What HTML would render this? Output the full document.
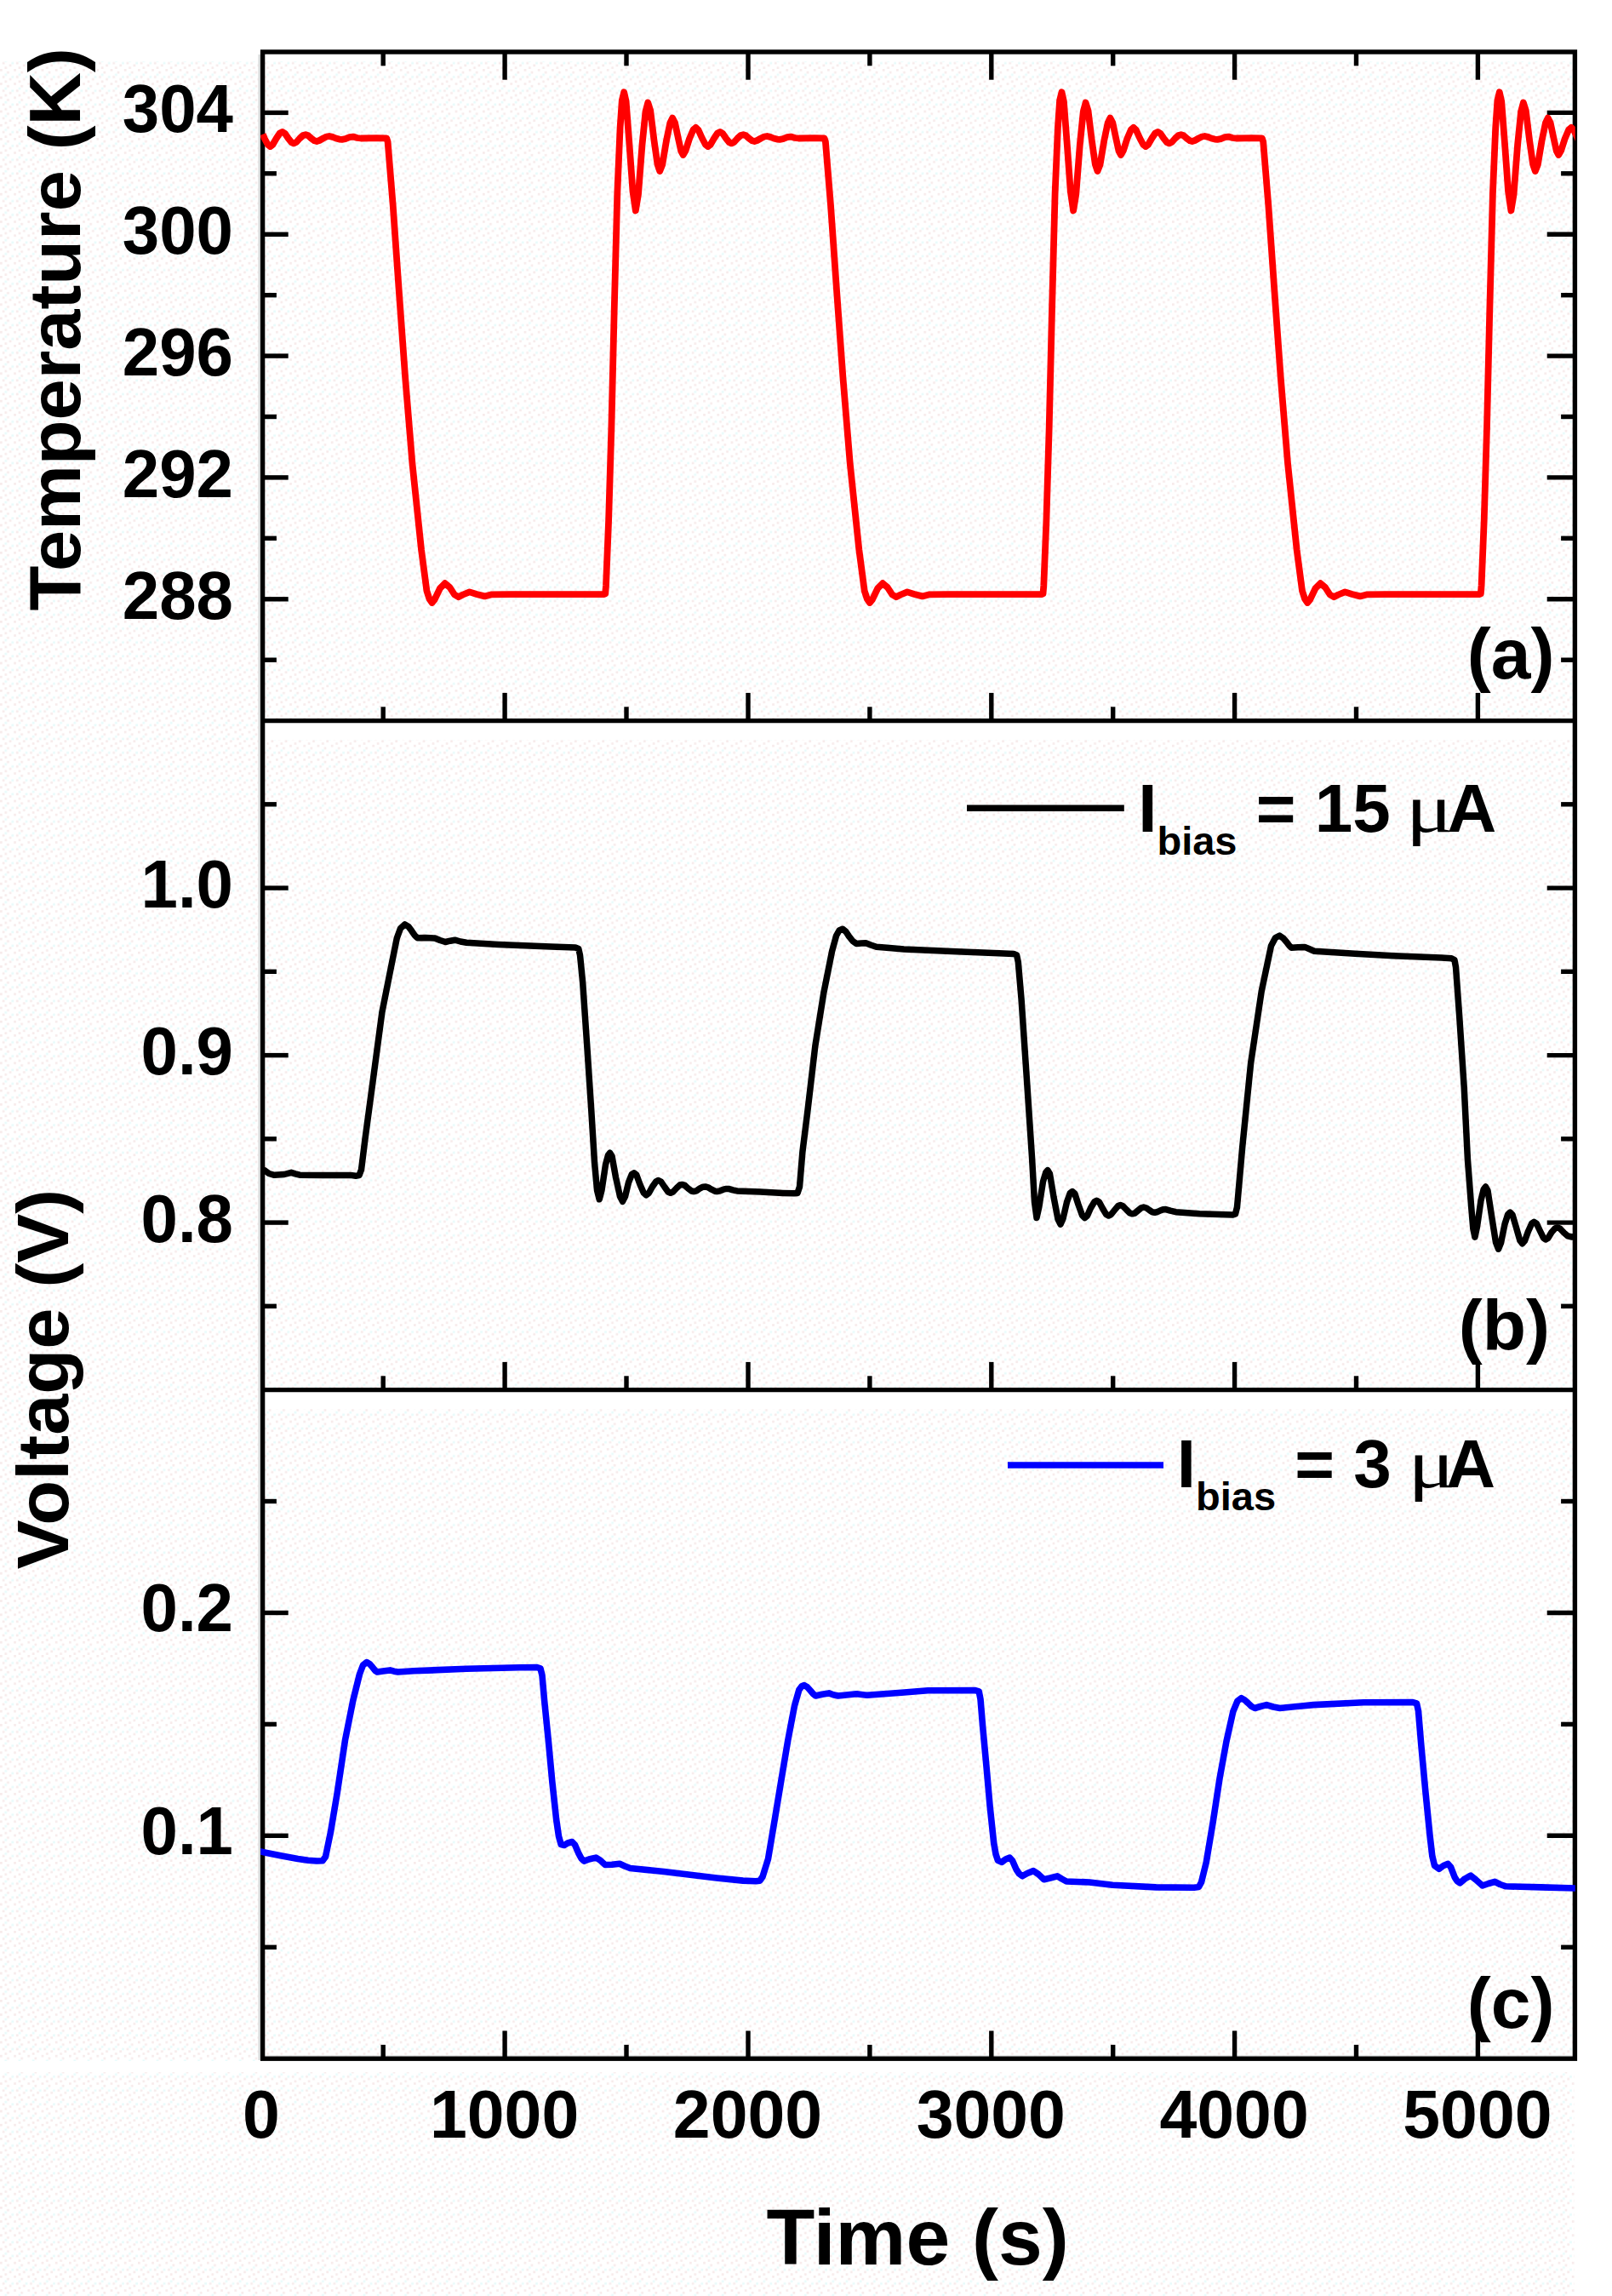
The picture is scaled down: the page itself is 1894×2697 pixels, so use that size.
<!DOCTYPE html>
<html lang="en"><head><meta charset="utf-8"><title>Temperature and voltage versus time</title>
<style>
html,body{margin:0;padding:0;background:#fff;}
body{width:1894px;height:2697px;overflow:hidden;}
svg{display:block;}
text{font-family:"Liberation Sans",sans-serif;font-weight:bold;fill:#000;}
.tk{font-size:80px;}
.ttl{font-size:85px;}
.xt{font-size:92px;}
.pl{font-size:84px;}
.lg{font-size:80px;}
.sub{font-size:47px;}
.mu{font-family:"Liberation Serif",serif;font-weight:normal;font-size:80px;}
</style></head><body>
<svg width="1894" height="2697" viewBox="0 0 1894 2697">
<rect x="0" y="0" width="1894" height="2697" fill="#ffffff"/>
<defs><pattern id="dz" width="16.2" height="16.2" patternUnits="userSpaceOnUse"><g fill="#f7ebeb"><rect x="0" y="0" width="2.7" height="2.7"/><rect x="8.1" y="2.7" width="2.7" height="2.7"/><rect x="2.7" y="8.1" width="2.7" height="2.7"/><rect x="10.8" y="10.8" width="2.7" height="2.7"/><rect x="5.4" y="13.5" width="2.7" height="2.7"/></g><g fill="#e8fbfb"><rect x="5.4" y="5.4" width="2.7" height="2.7"/><rect x="13.5" y="8.1" width="2.7" height="2.7"/></g></pattern></defs>
<rect x="0" y="72" width="1850" height="2625" fill="url(#dz)"/>
<g fill="#fff"><rect x="311" y="849" width="1538" height="20"/><rect x="311" y="1635" width="1538" height="20"/><rect x="0" y="2421" width="1850" height="13"/></g>
<defs><clipPath id="cp"><rect x="306.2" y="61.0" width="1544.6" height="2357.2"/></clipPath></defs>
<line x1="304.6" y1="64" x2="304.6" y2="2420" stroke="#d9dcdc" stroke-width="2.4"/>
<line x1="311.5" y1="2414.9" x2="1847.5" y2="2414.9" stroke="#dfe2e2" stroke-width="1.2"/>
<g stroke="#000" stroke-width="5.4" fill="none" stroke-linecap="butt">
<rect x="308.6" y="61.0" width="1541.8" height="2357.2"/>
<line x1="308.6" y1="846.6" x2="1850.4" y2="846.6"/>
<line x1="308.6" y1="1632.6" x2="1850.4" y2="1632.6"/>
</g>
<g stroke="#000" stroke-width="5.4" stroke-linecap="butt">
<line x1="450.2" y1="61.0" x2="450.2" y2="77.3"/>
<line x1="450.2" y1="846.6" x2="450.2" y2="830.3"/>
<line x1="450.2" y1="1632.6" x2="450.2" y2="1616.3"/>
<line x1="450.2" y1="2418.2" x2="450.2" y2="2401.9"/>
<line x1="593.1" y1="61.0" x2="593.1" y2="93.7"/>
<line x1="593.1" y1="846.6" x2="593.1" y2="813.9"/>
<line x1="593.1" y1="1632.6" x2="593.1" y2="1599.9"/>
<line x1="593.1" y1="2418.2" x2="593.1" y2="2385.5"/>
<line x1="736.0" y1="61.0" x2="736.0" y2="77.3"/>
<line x1="736.0" y1="846.6" x2="736.0" y2="830.3"/>
<line x1="736.0" y1="1632.6" x2="736.0" y2="1616.3"/>
<line x1="736.0" y1="2418.2" x2="736.0" y2="2401.9"/>
<line x1="879.0" y1="61.0" x2="879.0" y2="93.7"/>
<line x1="879.0" y1="846.6" x2="879.0" y2="813.9"/>
<line x1="879.0" y1="1632.6" x2="879.0" y2="1599.9"/>
<line x1="879.0" y1="2418.2" x2="879.0" y2="2385.5"/>
<line x1="1021.9" y1="61.0" x2="1021.9" y2="77.3"/>
<line x1="1021.9" y1="846.6" x2="1021.9" y2="830.3"/>
<line x1="1021.9" y1="1632.6" x2="1021.9" y2="1616.3"/>
<line x1="1021.9" y1="2418.2" x2="1021.9" y2="2401.9"/>
<line x1="1164.8" y1="61.0" x2="1164.8" y2="93.7"/>
<line x1="1164.8" y1="846.6" x2="1164.8" y2="813.9"/>
<line x1="1164.8" y1="1632.6" x2="1164.8" y2="1599.9"/>
<line x1="1164.8" y1="2418.2" x2="1164.8" y2="2385.5"/>
<line x1="1307.7" y1="61.0" x2="1307.7" y2="77.3"/>
<line x1="1307.7" y1="846.6" x2="1307.7" y2="830.3"/>
<line x1="1307.7" y1="1632.6" x2="1307.7" y2="1616.3"/>
<line x1="1307.7" y1="2418.2" x2="1307.7" y2="2401.9"/>
<line x1="1450.6" y1="61.0" x2="1450.6" y2="93.7"/>
<line x1="1450.6" y1="846.6" x2="1450.6" y2="813.9"/>
<line x1="1450.6" y1="1632.6" x2="1450.6" y2="1599.9"/>
<line x1="1450.6" y1="2418.2" x2="1450.6" y2="2385.5"/>
<line x1="1593.5" y1="61.0" x2="1593.5" y2="77.3"/>
<line x1="1593.5" y1="846.6" x2="1593.5" y2="830.3"/>
<line x1="1593.5" y1="1632.6" x2="1593.5" y2="1616.3"/>
<line x1="1593.5" y1="2418.2" x2="1593.5" y2="2401.9"/>
<line x1="1736.4" y1="61.0" x2="1736.4" y2="93.7"/>
<line x1="1736.4" y1="846.6" x2="1736.4" y2="813.9"/>
<line x1="1736.4" y1="1632.6" x2="1736.4" y2="1599.9"/>
<line x1="1736.4" y1="2418.2" x2="1736.4" y2="2385.5"/>
<line x1="308.6" y1="703.8" x2="338.7" y2="703.8"/>
<line x1="1850.4" y1="703.8" x2="1817.7" y2="703.8"/>
<line x1="308.6" y1="560.9" x2="338.7" y2="560.9"/>
<line x1="1850.4" y1="560.9" x2="1817.7" y2="560.9"/>
<line x1="308.6" y1="418.1" x2="338.7" y2="418.1"/>
<line x1="1850.4" y1="418.1" x2="1817.7" y2="418.1"/>
<line x1="308.6" y1="275.3" x2="338.7" y2="275.3"/>
<line x1="1850.4" y1="275.3" x2="1817.7" y2="275.3"/>
<line x1="308.6" y1="132.4" x2="338.7" y2="132.4"/>
<line x1="1850.4" y1="132.4" x2="1817.7" y2="132.4"/>
<line x1="308.6" y1="775.2" x2="324.9" y2="775.2"/>
<line x1="1850.4" y1="775.2" x2="1834.1" y2="775.2"/>
<line x1="308.6" y1="632.3" x2="324.9" y2="632.3"/>
<line x1="1850.4" y1="632.3" x2="1834.1" y2="632.3"/>
<line x1="308.6" y1="489.5" x2="324.9" y2="489.5"/>
<line x1="1850.4" y1="489.5" x2="1834.1" y2="489.5"/>
<line x1="308.6" y1="346.7" x2="324.9" y2="346.7"/>
<line x1="1850.4" y1="346.7" x2="1834.1" y2="346.7"/>
<line x1="308.6" y1="203.8" x2="324.9" y2="203.8"/>
<line x1="1850.4" y1="203.8" x2="1834.1" y2="203.8"/>
<line x1="308.6" y1="1436.1" x2="338.7" y2="1436.1"/>
<line x1="1850.4" y1="1436.1" x2="1817.7" y2="1436.1"/>
<line x1="308.6" y1="1239.6" x2="338.7" y2="1239.6"/>
<line x1="1850.4" y1="1239.6" x2="1817.7" y2="1239.6"/>
<line x1="308.6" y1="1043.1" x2="338.7" y2="1043.1"/>
<line x1="1850.4" y1="1043.1" x2="1817.7" y2="1043.1"/>
<line x1="308.6" y1="1534.3" x2="324.9" y2="1534.3"/>
<line x1="1850.4" y1="1534.3" x2="1834.1" y2="1534.3"/>
<line x1="308.6" y1="1337.8" x2="324.9" y2="1337.8"/>
<line x1="1850.4" y1="1337.8" x2="1834.1" y2="1337.8"/>
<line x1="308.6" y1="1141.3" x2="324.9" y2="1141.3"/>
<line x1="1850.4" y1="1141.3" x2="1834.1" y2="1141.3"/>
<line x1="308.6" y1="944.8" x2="324.9" y2="944.8"/>
<line x1="1850.4" y1="944.8" x2="1834.1" y2="944.8"/>
<line x1="308.6" y1="2156.3" x2="338.7" y2="2156.3"/>
<line x1="1850.4" y1="2156.3" x2="1817.7" y2="2156.3"/>
<line x1="308.6" y1="1894.5" x2="338.7" y2="1894.5"/>
<line x1="1850.4" y1="1894.5" x2="1817.7" y2="1894.5"/>
<line x1="308.6" y1="2287.3" x2="324.9" y2="2287.3"/>
<line x1="1850.4" y1="2287.3" x2="1834.1" y2="2287.3"/>
<line x1="308.6" y1="2025.4" x2="324.9" y2="2025.4"/>
<line x1="1850.4" y1="2025.4" x2="1834.1" y2="2025.4"/>
<line x1="308.6" y1="1763.5" x2="324.9" y2="1763.5"/>
<line x1="1850.4" y1="1763.5" x2="1834.1" y2="1763.5"/>
</g>
<g clip-path="url(#cp)">
<polyline points="308.8,157.6 310.7,162.5 314.7,170.0 317.5,172.1 320.5,169.8 324.7,162.5 328.7,156.5 331.7,155.0 334.9,156.8 338.7,162.5 342.5,167.2 345.1,168.4 348.2,167.0 352.2,162.5 356.1,159.0 359.0,158.2 362.2,159.3 365.7,162.5 369.5,165.3 372.1,166.0 375.3,165.0 379.7,162.5 383.7,160.5 386.9,160.0 390.7,160.9 394.7,162.5 398.7,163.6 401.8,163.8 405.7,163.2 410.7,161.2 414.9,160.6 419.7,162.0 424.0,162.5 424.0,162.5 442.7,162.2 454.2,162.3 455.6,166.5 461.7,241.0 468.8,342.0 476.1,443.0 484.4,544.0 495.0,645.5 501.4,694.0 504.5,703.5 507.6,708.0 510.5,704.5 517.0,691.0 522.8,685.2 528.5,690.0 534.0,698.5 538.6,701.2 544.0,698.5 551.7,695.4 560.0,698.0 569.4,700.4 577.0,698.4 600.0,698.2 709.0,698.2 711.2,697.6 712.0,688.0 715.1,611.6 718.4,501.8 721.7,364.5 725.3,227.3 728.6,150.0 730.8,118.0 733.2,108.3 735.6,119.0 739.5,170.0 743.5,225.0 746.8,247.5 750.0,228.0 754.5,170.0 758.5,131.0 761.3,120.6 764.2,130.0 768.5,165.0 772.5,193.0 775.2,201.0 778.2,193.5 783.0,165.0 787.3,144.5 790.1,138.6 793.0,144.0 797.0,163.0 800.2,177.5 802.6,182.0 805.5,177.0 810.0,163.0 814.5,152.5 817.5,149.8 820.6,152.8 825.0,162.5 829.0,170.0 831.8,172.1 834.8,169.8 839.0,162.5 843.0,156.5 846.0,155.0 849.2,156.8 853.0,162.5 856.8,167.2 859.4,168.4 862.5,167.0 866.5,162.5 870.4,159.0 873.3,158.2 876.5,159.3 880.0,162.5 883.8,165.3 886.4,166.0 889.6,165.0 894.0,162.5 898.0,160.5 901.2,160.0 905.0,160.9 909.0,162.5 913.0,163.6 916.1,163.8 920.0,163.2 925.0,161.2 929.2,160.6 934.0,162.0 938.3,162.5 938.3,162.5 957.0,162.2 968.5,162.3 969.9,166.5 976.0,241.0 983.1,342.0 990.4,443.0 998.7,544.0 1009.3,645.5 1015.7,694.0 1018.8,703.5 1021.9,708.0 1024.8,704.5 1031.3,691.0 1037.1,685.2 1042.8,690.0 1048.3,698.5 1052.9,701.2 1058.3,698.5 1066.0,695.4 1074.3,698.0 1083.7,700.4 1091.3,698.4 1114.3,698.2 1223.3,698.2 1225.5,697.6 1226.3,688.0 1229.4,611.6 1232.7,501.8 1236.0,364.5 1239.6,227.3 1242.9,150.0 1245.1,118.0 1247.5,108.3 1249.9,119.0 1253.8,170.0 1257.8,225.0 1261.1,247.5 1264.3,228.0 1268.8,170.0 1272.8,131.0 1275.6,120.6 1278.5,130.0 1282.8,165.0 1286.8,193.0 1289.5,201.0 1292.5,193.5 1297.3,165.0 1301.6,144.5 1304.4,138.6 1307.3,144.0 1311.3,163.0 1314.5,177.5 1316.9,182.0 1319.8,177.0 1324.3,163.0 1328.8,152.5 1331.8,149.8 1334.9,152.8 1339.3,162.5 1343.3,170.0 1346.1,172.1 1349.1,169.8 1353.3,162.5 1357.3,156.5 1360.3,155.0 1363.5,156.8 1367.3,162.5 1371.1,167.2 1373.7,168.4 1376.8,167.0 1380.8,162.5 1384.7,159.0 1387.6,158.2 1390.8,159.3 1394.3,162.5 1398.1,165.3 1400.7,166.0 1403.9,165.0 1408.3,162.5 1412.3,160.5 1415.5,160.0 1419.3,160.9 1423.3,162.5 1427.3,163.6 1430.4,163.8 1434.3,163.2 1439.3,161.2 1443.5,160.6 1448.3,162.0 1452.6,162.5 1452.6,162.5 1471.3,162.2 1482.8,162.3 1484.2,166.5 1490.3,241.0 1497.4,342.0 1504.7,443.0 1513.0,544.0 1523.6,645.5 1530.0,694.0 1533.1,703.5 1536.2,708.0 1539.1,704.5 1545.6,691.0 1551.4,685.2 1557.1,690.0 1562.6,698.5 1567.2,701.2 1572.6,698.5 1580.3,695.4 1588.6,698.0 1598.0,700.4 1605.6,698.4 1628.6,698.2 1737.6,698.2 1739.8,697.6 1740.6,688.0 1743.7,611.6 1747.0,501.8 1750.3,364.5 1753.9,227.3 1757.2,150.0 1759.4,118.0 1761.8,108.3 1764.2,119.0 1768.1,170.0 1772.1,225.0 1775.4,247.5 1778.6,228.0 1783.1,170.0 1787.1,131.0 1789.9,120.6 1792.8,130.0 1797.1,165.0 1801.1,193.0 1803.8,201.0 1806.8,193.5 1811.6,165.0 1815.9,144.5 1818.7,138.6 1821.6,144.0 1825.6,163.0 1828.8,177.5 1831.2,182.0 1834.1,177.0 1838.6,163.0 1843.1,152.5 1846.1,149.8 1849.2,152.8 1853.6,162.5 1857.6,170.0 1860.4,172.1 1863.4,169.8 1867.6,162.5 1871.6,156.5 1874.6,155.0 1877.8,156.8 1881.6,162.5 1885.4,167.2 1888.0,168.4 1891.1,167.0 1895.1,162.5 1899.0,159.0 1901.9,158.2 1905.1,159.3 1908.6,162.5 1912.4,165.3 1915.0,166.0 1918.2,165.0 1922.6,162.5 1926.6,160.5 1929.8,160.0 1933.6,160.9 1937.6,162.5 1941.6,163.6 1944.7,163.8 1948.6,163.2 1953.6,161.2 1957.8,160.6 1962.6,162.0 1966.9,162.5 1966.9,162.5 1985.6,162.2 1997.1,162.3 1998.5,166.5 2004.6,241.0 2011.7,342.0 2019.0,443.0 2027.3,544.0 2037.9,645.5 2044.3,694.0 2047.4,703.5 2050.5,708.0 2053.4,704.5 2059.9,691.0 2065.7,685.2 2071.4,690.0 2076.9,698.5 2081.5,701.2 2086.9,698.5 2094.6,695.4 2102.9,698.0 2112.3,700.4 2119.9,698.4 2142.9,698.2 2251.9,698.2 2254.1,697.6 2254.9,688.0 2258.0,611.6 2261.3,501.8 2264.6,364.5 2268.2,227.3 2271.5,150.0 2273.7,118.0 2276.1,108.3 2278.5,119.0 2282.4,170.0 2286.4,225.0 2289.7,247.5 2292.9,228.0 2297.4,170.0 2301.4,131.0 2304.2,120.6 2307.1,130.0 2311.4,165.0 2315.4,193.0 2318.1,201.0 2321.1,193.5 2325.9,165.0 2330.2,144.5 2333.0,138.6 2335.9,144.0 2339.9,163.0 2343.1,177.5 2345.5,182.0 2348.4,177.0 2352.9,163.0 2357.4,152.5 2360.4,149.8 2363.5,152.8 2367.9,162.5 2371.9,170.0 2374.7,172.1 2377.7,169.8 2381.9,162.5 2385.9,156.5 2388.9,155.0 2392.1,156.8 2395.9,162.5 2399.7,167.2 2402.3,168.4 2405.4,167.0 2409.4,162.5 2413.3,159.0 2416.2,158.2 2419.4,159.3 2422.9,162.5 2426.7,165.3 2429.3,166.0 2432.5,165.0 2436.9,162.5 2440.9,160.5 2444.1,160.0 2447.9,160.9 2451.9,162.5 2455.9,163.6 2459.0,163.8 2462.9,163.2 2467.9,161.2 2472.1,160.6 2476.9,162.0 2481.2,162.5" fill="none" stroke="#ff0000" stroke-width="7.8" stroke-linejoin="round" stroke-linecap="butt"/>
<polyline points="305.0,1373.5 311.2,1375.0 316.0,1378.5 322.3,1380.3 334.0,1379.5 342.2,1377.3 347.0,1378.8 352.1,1380.2 380.0,1380.4 411.7,1380.4 418.0,1381.2 422.0,1380.6 424.5,1374.0 429.0,1337.8 439.0,1263.3 448.9,1188.9 458.8,1139.3 466.3,1102.0 470.5,1090.5 475.7,1085.9 480.0,1088.5 483.6,1093.3 487.5,1099.0 490.6,1101.8 500.0,1101.6 510.9,1102.0 517.0,1104.5 523.3,1106.5 529.0,1105.2 534.5,1104.2 541.0,1106.0 548.1,1107.2 585.4,1109.5 647.4,1112.0 676.0,1113.0 679.8,1114.5 681.5,1122.0 684.7,1154.4 689.8,1228.9 694.7,1303.3 698.5,1365.4 701.5,1398.0 704.2,1408.8 707.0,1398.0 711.5,1368.0 714.5,1357.0 716.6,1354.2 719.0,1358.0 723.5,1383.0 728.5,1405.5 731.5,1411.3 734.5,1405.5 738.5,1389.0 742.3,1379.5 744.9,1377.8 747.8,1380.0 752.0,1391.5 756.3,1401.2 759.3,1403.8 762.3,1401.5 766.5,1394.0 770.8,1387.8 773.6,1386.5 776.6,1388.0 781.0,1394.5 785.0,1400.0 787.8,1401.3 790.8,1400.0 795.0,1395.5 798.8,1392.0 801.4,1391.4 804.5,1392.4 808.5,1396.0 812.5,1399.0 815.1,1399.6 818.2,1398.8 822.0,1396.2 826.0,1394.2 828.7,1393.9 832.0,1394.8 836.0,1397.2 840.0,1399.2 842.4,1399.6 846.0,1398.8 850.0,1397.2 853.5,1396.4 856.0,1396.4 861.0,1397.8 866.0,1398.9 893.3,1400.1 920.0,1401.4 933.0,1401.8 937.0,1401.5 939.5,1394.0 942.9,1353.0 949.1,1303.3 957.8,1228.9 967.7,1166.8 977.6,1117.2 982.6,1099.0 986.0,1093.0 990.0,1091.2 994.0,1094.5 997.5,1099.9 1002.0,1105.5 1006.2,1108.5 1012.0,1108.0 1017.3,1107.8 1023.0,1110.0 1029.7,1112.3 1045.0,1113.5 1062.0,1115.0 1124.0,1117.8 1173.7,1119.7 1191.0,1120.4 1194.6,1122.0 1196.3,1130.0 1200.0,1173.0 1206.3,1266.0 1212.5,1359.2 1215.5,1412.0 1218.0,1430.5 1220.8,1418.0 1225.5,1388.0 1228.8,1377.0 1231.0,1374.7 1233.5,1379.0 1238.0,1406.0 1243.0,1432.0 1246.0,1438.2 1249.0,1431.5 1253.5,1412.0 1257.3,1401.5 1260.0,1399.5 1262.8,1402.0 1267.0,1415.0 1271.5,1427.5 1274.5,1430.5 1277.5,1428.0 1281.5,1419.0 1285.8,1411.8 1288.5,1410.3 1291.5,1412.0 1295.5,1419.5 1299.6,1426.4 1302.4,1428.0 1305.5,1426.5 1309.5,1421.5 1313.6,1416.6 1316.4,1415.6 1319.5,1416.8 1323.5,1421.0 1327.6,1425.0 1330.3,1425.8 1333.4,1425.0 1337.0,1422.0 1341.0,1418.8 1343.7,1418.0 1347.0,1419.0 1350.5,1421.5 1354.0,1423.8 1356.7,1424.3 1360.0,1423.5 1363.5,1421.8 1367.0,1420.7 1369.7,1420.6 1375.0,1422.2 1381.5,1423.7 1409.4,1425.8 1440.0,1426.8 1448.5,1427.0 1451.5,1426.0 1453.5,1418.0 1459.7,1347.5 1469.6,1249.0 1482.2,1164.5 1493.5,1111.0 1498.5,1101.5 1503.4,1099.1 1507.5,1101.8 1511.8,1106.8 1515.0,1111.0 1517.4,1113.2 1525.0,1112.8 1532.9,1112.4 1538.5,1114.8 1544.2,1117.2 1592.1,1120.3 1637.1,1122.8 1693.5,1125.0 1705.5,1125.8 1708.9,1127.5 1710.5,1136.0 1714.6,1192.6 1720.2,1277.1 1724.4,1361.6 1728.7,1418.0 1730.8,1443.0 1732.9,1453.1 1735.5,1441.0 1740.0,1410.0 1743.2,1397.0 1745.5,1394.0 1748.0,1398.5 1752.5,1428.0 1757.5,1459.5 1760.5,1467.2 1763.5,1460.0 1768.0,1438.0 1771.7,1426.5 1774.3,1424.1 1777.0,1426.8 1781.5,1442.0 1785.8,1457.0 1788.6,1460.7 1791.5,1457.5 1795.5,1446.5 1799.7,1437.2 1802.4,1435.4 1805.3,1437.2 1809.5,1446.0 1813.5,1454.2 1816.0,1456.0 1819.0,1454.2 1823.0,1447.5 1827.2,1442.8 1830.0,1441.9 1833.0,1443.2 1837.5,1448.0 1842.0,1451.8 1847.0,1453.0 1852.0,1452.0" fill="none" stroke="#000000" stroke-width="7.5" stroke-linejoin="round" stroke-linecap="butt"/>
<polyline points="305.0,2174.8 310.9,2175.9 331.0,2179.9 350.0,2183.5 362.0,2185.2 372.0,2186.0 379.0,2185.8 382.5,2181.0 388.4,2152.6 396.2,2106.1 405.5,2044.1 414.8,1997.5 422.5,1966.5 426.5,1956.0 430.9,1952.6 434.5,1954.8 438.0,1958.8 441.0,1962.5 443.3,1964.0 450.0,1963.0 458.2,1961.9 463.0,1963.2 467.5,1964.0 486.1,1962.8 548.1,1960.3 610.2,1958.8 631.0,1958.6 635.0,1959.8 637.0,1968.0 639.6,1997.5 644.3,2044.1 648.9,2093.7 653.6,2137.1 656.5,2157.0 659.2,2166.6 662.9,2167.5 667.0,2165.0 672.2,2163.5 675.5,2167.0 680.0,2177.4 683.0,2183.0 686.2,2186.1 692.0,2184.0 700.1,2182.1 705.0,2185.0 711.0,2190.5 719.0,2190.2 728.0,2189.2 734.0,2192.0 740.4,2194.5 765.3,2197.0 780.0,2198.5 811.0,2202.3 842.0,2206.0 873.0,2209.1 888.0,2209.8 892.8,2209.2 896.0,2204.5 902.5,2183.7 910.3,2137.1 918.0,2090.6 925.8,2044.1 933.5,2003.7 938.8,1985.1 942.0,1980.8 945.0,1979.6 948.5,1981.8 952.1,1985.8 955.5,1989.8 958.3,1992.0 966.0,1990.2 973.9,1988.9 979.0,1990.8 984.7,1992.0 1006.4,1989.8 1018.8,1991.3 1059.2,1988.2 1090.2,1985.8 1146.0,1985.6 1150.2,1986.8 1152.0,1996.0 1154.7,2028.6 1159.0,2075.1 1163.1,2121.6 1167.7,2165.0 1170.0,2178.0 1172.4,2185.2 1177.0,2187.4 1181.5,2184.0 1186.3,2182.1 1189.5,2185.5 1194.1,2196.0 1197.5,2201.0 1201.2,2203.8 1207.0,2200.5 1214.2,2197.6 1220.0,2201.5 1226.6,2207.8 1234.0,2206.0 1242.2,2203.8 1247.5,2207.0 1253.0,2210.0 1280.0,2211.0 1307.2,2214.2 1358.3,2216.9 1403.0,2217.2 1408.5,2216.5 1411.5,2211.0 1417.3,2187.4 1425.2,2140.2 1433.0,2089.1 1440.9,2045.9 1448.8,2010.5 1454.0,1998.0 1458.6,1994.7 1462.5,1997.0 1466.5,2000.6 1470.5,2004.5 1474.3,2006.5 1481.0,2004.5 1488.1,2002.6 1496.0,2005.0 1503.8,2006.5 1543.2,2002.6 1602.2,1999.8 1660.0,1999.6 1664.5,2000.8 1666.5,2010.0 1669.8,2049.8 1674.9,2104.9 1680.0,2156.0 1682.8,2180.0 1685.5,2191.4 1690.7,2195.3 1696.0,2191.5 1701.3,2189.4 1704.5,2193.0 1709.2,2205.1 1712.0,2209.5 1715.4,2211.8 1721.0,2207.0 1728.0,2203.2 1734.0,2208.0 1741.8,2215.0 1749.0,2212.5 1756.3,2210.3 1762.5,2213.5 1769.3,2215.8 1810.6,2216.9 1852.0,2218.1" fill="none" stroke="#0000ff" stroke-width="7.6" stroke-linejoin="round" stroke-linecap="butt"/>
</g>
<text class="tk" text-anchor="end" transform="translate(274.0 726.7) scale(0.975 1)">288</text>
<text class="tk" text-anchor="end" transform="translate(274.0 583.8) scale(0.975 1)">292</text>
<text class="tk" text-anchor="end" transform="translate(274.0 441.0) scale(0.975 1)">296</text>
<text class="tk" text-anchor="end" transform="translate(274.0 298.2) scale(0.975 1)">300</text>
<text class="tk" text-anchor="end" transform="translate(274.0 155.3) scale(0.975 1)">304</text>
<text class="tk" text-anchor="end" transform="translate(274.0 1458.6) scale(0.975 1)">0.8</text>
<text class="tk" text-anchor="end" transform="translate(274.0 1262.1) scale(0.975 1)">0.9</text>
<text class="tk" text-anchor="end" transform="translate(274.0 1065.6) scale(0.975 1)">1.0</text>
<text class="tk" text-anchor="end" transform="translate(274.0 2178.1) scale(0.975 1)">0.1</text>
<text class="tk" text-anchor="end" transform="translate(274.0 1916.3) scale(0.975 1)">0.2</text>
<text class="tk" text-anchor="middle" transform="translate(306.8 2511) scale(0.985 1)">0</text>
<text class="tk" text-anchor="middle" transform="translate(592.6 2511) scale(0.985 1)">1000</text>
<text class="tk" text-anchor="middle" transform="translate(878.5 2511) scale(0.985 1)">2000</text>
<text class="tk" text-anchor="middle" transform="translate(1164.3 2511) scale(0.985 1)">3000</text>
<text class="tk" text-anchor="middle" transform="translate(1450.1 2511) scale(0.985 1)">4000</text>
<text class="tk" text-anchor="middle" transform="translate(1735.9 2511) scale(0.985 1)">5000</text>
<text class="ttl" text-anchor="middle" transform="translate(93.8 386.9) rotate(-90) scale(1.017 1)">Temperature (K)</text>
<text class="ttl" text-anchor="middle" transform="translate(80.3 1620.0) rotate(-90) scale(1.02 1)">Voltage (V)</text>
<text class="xt" text-anchor="middle" transform="translate(1078.2 2660) scale(1.012 1)">Time (s)</text>
<text class="pl" text-anchor="middle" x="1775.2" y="797.4">(a)</text>
<text class="pl" text-anchor="middle" x="1767.4" y="1585.5">(b)</text>
<text class="pl" text-anchor="middle" x="1775.2" y="2382.2">(c)</text>
<line x1="1136.0" y1="949.2" x2="1320.8" y2="949.2" stroke="#000" stroke-width="7.6"/>
<text class="lg" x="1337.2" y="977.3">I<tspan class="sub" dy="26.7">bias</tspan><tspan dy="-26.7"> = 15</tspan></text>
<text class="mu" transform="translate(1651.8 977.3) scale(1.3 1)">μ</text>
<text class="lg" x="1700.6" y="977.3">A</text>
<line x1="1184.0" y1="1721.0" x2="1367.0" y2="1721.0" stroke="#0000ff" stroke-width="7.6"/>
<text class="lg" x="1382.8" y="1747.0">I<tspan class="sub" dy="26.7">bias</tspan><tspan dy="-26.7"> = 3</tspan></text>
<text class="mu" transform="translate(1654.2 1747.0) scale(1.3 1)">μ</text>
<text class="lg" x="1699.2" y="1747.0">A</text>
</svg>
</body></html>
